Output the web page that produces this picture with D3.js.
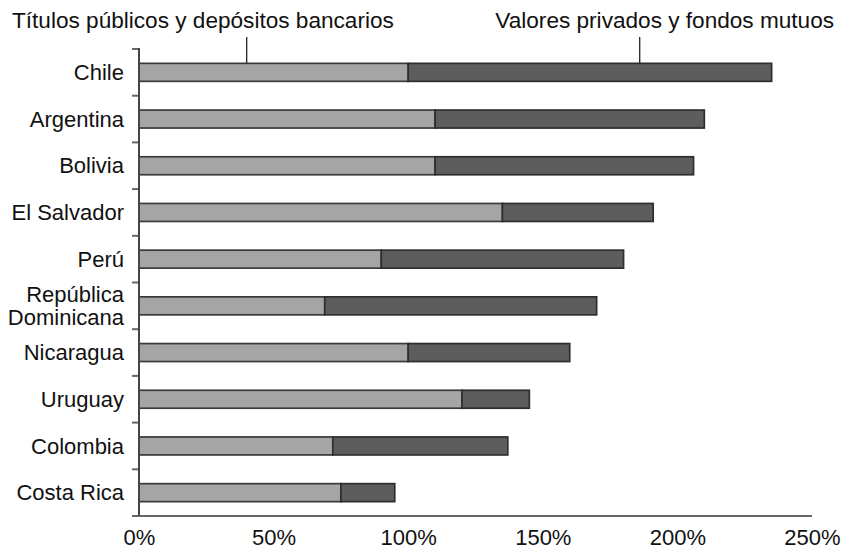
<!DOCTYPE html>
<html>
<head>
<meta charset="utf-8">
<script src="https://cdn.jsdelivr.net/npm/d3@7"></script>
<style>
  html, body { margin: 0; padding: 0; background: #fff; }
  svg { display: block; }
  text { font-family: "Liberation Sans", Arial, Helvetica, sans-serif; fill: #111; }
</style>
</head>
<body>
<svg id="chart" width="841" height="550"></svg>
<script>
// Countries, top to bottom
const countries = ["Chile", "Argentina", "Bolivia", "El Salvador", "Perú",
  "República Dominicana", "Nicaragua", "Uruguay", "Colombia", "Costa Rica"];
// Share held in public bonds and bank deposits (%)
const publicDeposits = [100, 110, 110, 135, 90, 69, 100, 120, 72, 75];
// Share held in private securities and mutual funds (%)
const privateFunds = [135, 100, 96, 56, 90, 101, 60, 25, 65, 20];
// Axis ticks
const xTicks = [0, 50, 100, 150, 200, 250];
const seriesNames = ["Títulos públicos y depósitos bancarios", "Valores privados y fondos mutuos"];

const svg = d3.select("#chart");
const fontSize = 22;

const x = d3.scaleLinear().domain([0, 250]).range([139, 812]);
const y = d3.scaleBand().domain(countries).range([49, 516])
  .paddingInner(0.615).paddingOuter(0.3075);

const defs = svg.append("defs");
defs.append("filter").attr("id", "soft")
  .append("feGaussianBlur").attr("stdDeviation", 0.55);

// Stacked bars
const rows = countries.map((c, i) => ({ c, a: publicDeposits[i], b: privateFunds[i] }));
const bars = svg.append("g").attr("filter", "url(#soft)");
const rowG = bars.selectAll("g.row").data(rows).join("g").attr("class", "row");
rowG.append("rect")
  .attr("x", d => x(0)).attr("y", d => y(d.c))
  .attr("width", d => x(d.a) - x(0)).attr("height", y.bandwidth())
  .attr("fill", "#a5a5a5").attr("stroke", "#3a3a3a").attr("stroke-width", 1.7);
rowG.append("rect")
  .attr("x", d => x(d.a)).attr("y", d => y(d.c))
  .attr("width", d => x(d.a + d.b) - x(d.a)).attr("height", y.bandwidth())
  .attr("fill", "#5d5d5d").attr("stroke", "#2e2e2e").attr("stroke-width", 1.7);

// Axes
const axes = svg.append("g").attr("filter", "url(#soft)");
// category boundary ticks on the left
const bounds = d3.range(countries.length + 1).map(i => y.range()[0] + i * y.step());
axes.selectAll("line.ytick").data(bounds).join("line")
  .attr("x1", 132).attr("x2", x(0)).attr("y1", d => d).attr("y2", d => d)
  .attr("stroke", "#666").attr("stroke-width", 2);
axes.append("line")
  .attr("x1", x(0)).attr("x2", x(0)).attr("y1", 48).attr("y2", 516)
  .attr("stroke", "#444").attr("stroke-width", 2);
axes.append("line")
  .attr("x1", x(0)).attr("x2", x(250)).attr("y1", 516).attr("y2", 516)
  .attr("stroke", "#666").attr("stroke-width", 2);

const xAxis = d3.axisBottom(x).tickValues(xTicks).tickSize(7).tickPadding(6)
  .tickFormat(d => d + "%");
const xg = svg.append("g").attr("transform", "translate(0,516)").call(xAxis);
xg.select(".domain").remove();
xg.selectAll(".tick line").attr("stroke", "#666").attr("stroke-width", 2).attr("filter", "url(#soft)");
xg.selectAll(".tick text").attr("font-size", fontSize).attr("fill", "#111")
  .style("font-family", "'Liberation Sans', Arial, sans-serif");

// Category labels
const labels = svg.append("g");
rows.forEach(d => {
  const cy = y(d.c) + y.bandwidth() / 2;
  const parts = d.c === "República Dominicana" ? ["República", "Dominicana"] : [d.c];
  const lh = 23;
  parts.forEach((p, j) => {
    labels.append("text")
      .attr("x", 124)
      .attr("y", cy + (j - (parts.length - 1) / 2) * lh)
      .attr("dy", "0.35em")
      .attr("text-anchor", "end")
      .attr("font-size", fontSize)
      .text(p);
  });
});

// Series annotations with leader lines to the Chile bar
const chileTop = y("Chile");
const notes = [
  { text: seriesNames[0], tx: 12, anchor: "start", lx: x(40) },
  { text: seriesNames[1], tx: 834, anchor: "end", lx: x(186) }
];
notes.forEach(n => {
  svg.append("text").attr("x", n.tx).attr("y", 28)
    .attr("text-anchor", n.anchor).attr("font-size", 22.6).text(n.text);
  svg.append("line").attr("x1", n.lx).attr("x2", n.lx)
    .attr("y1", 37).attr("y2", chileTop)
    .attr("stroke", "#222").attr("stroke-width", 1.3);
});
</script>
</body>
</html>
